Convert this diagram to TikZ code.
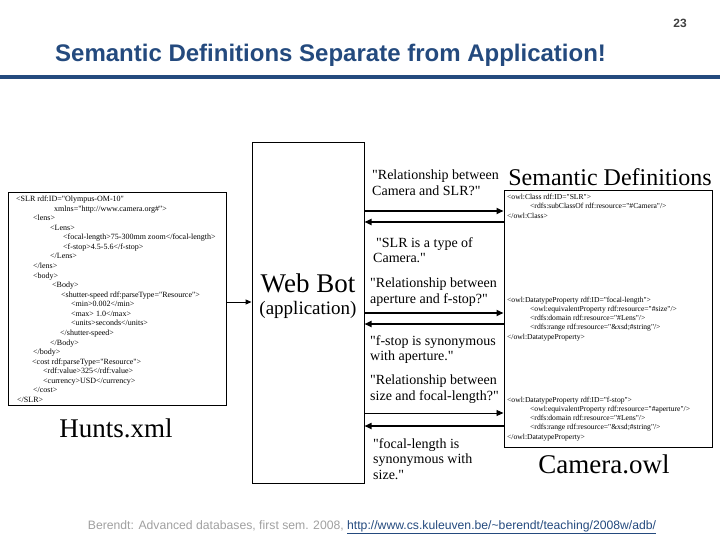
\documentclass[tikz,border=0pt]{standalone}
\usepackage{fontspec}
\setmainfont{Liberation Serif}
\newfontfamily\arialfont{Liberation Sans}
\usetikzlibrary{arrows.meta}
\definecolor{TitleClr}{RGB}{36,74,126}
\definecolor{FootClr}{RGB}{160,160,160}
\newcommand\dq{\textquotedbl}
\tikzset{
  box/.style={draw, line width=1pt, inner sep=0pt},
  codeline/.style={anchor=base west, inner sep=0pt, font=\fontsize{8}{9}\selectfont},
  owlcode/.style={anchor=north west, inner sep=0pt, align=left, font=\fontsize{7.6}{9.3}\selectfont},
  talk/.style={anchor=north west, inner sep=0pt, align=left, font=\fontsize{14}{15.5}\selectfont},
  big/.style={inner sep=0pt, font=\fontsize{27}{30}\selectfont},
  msg/.style={-{Triangle[length=7pt,width=6pt]}, line width=1.6pt},
}

\begin{document}
\begin{tikzpicture}[x=1pt,y=-1pt]
\useasboundingbox (0,0) rectangle (720,540);

% header
\node[font=\arialfont\bfseries\fontsize{12}{14}\selectfont, text=black!75] (pagenr) at (680,23) {23};
\node[anchor=west, inner sep=0pt, font=\arialfont\bfseries\fontsize{24}{28}\selectfont, text=TitleClr] (title) at (55,55) {Semantic Definitions Separate from Application!};
\fill[TitleClr] (0,75.5) rectangle (720,79.5);

% the three boxes
\node[box, minimum width=218pt, minimum height=212pt] (xml) at (117,299) {};
\node[box, minimum width=112pt, minimum height=340pt] (webbot) at (308,313) {};
\node[box, minimum width=208pt, minimum height=256pt] (owl) at (608,319) {};

\foreach \ind/\txt [count=\i] in {
  16/{<SLR rdf:ID=\dq Olympus-OM-10\dq},
  54/{xmlns=\dq http://www.camera.org\#\dq>},
  33/{<lens>},
  50/{<Lens>},
  63/{<focal-length>75-300mm zoom</focal-length>},
  63/{<f-stop>4.5-5.6</f-stop>},
  50/{</Lens>},
  33/{</lens>},
  33/{<body>},
  52/{<Body>},
  61/{<shutter-speed rdf:parseType=\dq Resource\dq>},
  71/{<min>0.002</min>},
  71/{<max> 1.0</max>},
  71/{<units>seconds</units>},
  60/{</shutter-speed>},
  50/{</Body>},
  33/{</body>},
  32/{<cost rdf:parseType=\dq Resource\dq>},
  43/{<rdf:value>325</rdf:value>},
  43/{<currency>USD</currency>},
  33/{</cost>},
  17/{</SLR>}}
  \node[codeline] (xml\i) at (\ind,{201.5+9.57*(\i-1)}) {\txt};

\node[big] (hunts) at (116,428) {Hunts.xml};

\node[big] (wb) at (308,283) {Web Bot};
\node[inner sep=0pt, font=\fontsize{19}{22}\selectfont] (app) at (308,310) {(application)};

% questions and answers
\node[talk] (q1) at (372,170) {\dq Relationship between\\Camera and SLR?\dq};
\node[talk] (a1) at (373,237) {\hspace*{3pt}\dq SLR is a type of\\Camera.\dq};
\node[talk] (q2) at (370,278) {\dq Relationship between\\aperture and f-stop?\dq};
\node[talk] (a2) at (370,335) {\dq f-stop is synonymous\\with aperture.\dq};
\node[talk] (q3) at (370,375) {\dq Relationship between\\size and focal-length?\dq};
\node[talk] (a3) at (373,438) {\dq focal-length is\\synonymous with\\size.\dq};

\node[inner sep=0pt, font=\fontsize{24}{28}\selectfont] (semdef) at (610,177) {Semantic Definitions};

\node[owlcode] (owl1) at (507,194) {<owl:Class rdf:ID=\dq SLR\dq>\\
  \hspace*{23pt}<rdfs:subClassOf rdf:resource=\dq\#Camera\dq/>\\
  </owl:Class>};
\node[owlcode] (owl2) at (507,296.5) {<owl:DatatypeProperty rdf:ID=\dq focal-length\dq>\\
  \hspace*{23pt}<owl:equivalentProperty rdf:resource=\dq\#size\dq/>\\
  \hspace*{23pt}<rdfs:domain rdf:resource=\dq\#Lens\dq/>\\
  \hspace*{23pt}<rdfs:range rdf:resource=\dq\&xsd;\#string\dq/>\\
  </owl:DatatypeProperty>};
\node[owlcode] (owl3) at (507,396.5) {<owl:DatatypeProperty rdf:ID=\dq f-stop\dq>\\
  \hspace*{23pt}<owl:equivalentProperty rdf:resource=\dq\#aperture\dq/>\\
  \hspace*{23pt}<rdfs:domain rdf:resource=\dq\#Lens\dq/>\\
  \hspace*{23pt}<rdfs:range rdf:resource=\dq\&xsd;\#string\dq/>\\
  </owl:DatatypeProperty>};

\node[big] (camowl) at (604,464) {Camera.owl};

% connectors
\coordinate (feed) at (0,302);
\draw[-{Triangle[length=6pt,width=5pt]}, line width=1pt] (xml.east |- feed) -- (webbot.west |- feed);

\foreach \ry/\ly/\lw in {211/222/1.6pt, 313/324/1.6pt, 413/426/0.9pt} {
  \coordinate (ask) at (0,\ry);
  \coordinate (tell) at (0,\ly);
  \draw[msg, line width=\lw] (webbot.east |- ask) -- (owl.west |- ask);
  \draw[msg] (owl.west |- tell) -- (webbot.east |- tell);
}

% footer
\node[font=\arialfont\fontsize{12.2}{14}\selectfont] (foot) at (372,527) {\textcolor{FootClr}{Berendt: Advanced databases, first sem. 2008, }\textcolor{TitleClr}{\underline{http://www.cs.kuleuven.be/\textasciitilde berendt/teaching/2008w/adb/}}};

\end{tikzpicture}
\end{document}
